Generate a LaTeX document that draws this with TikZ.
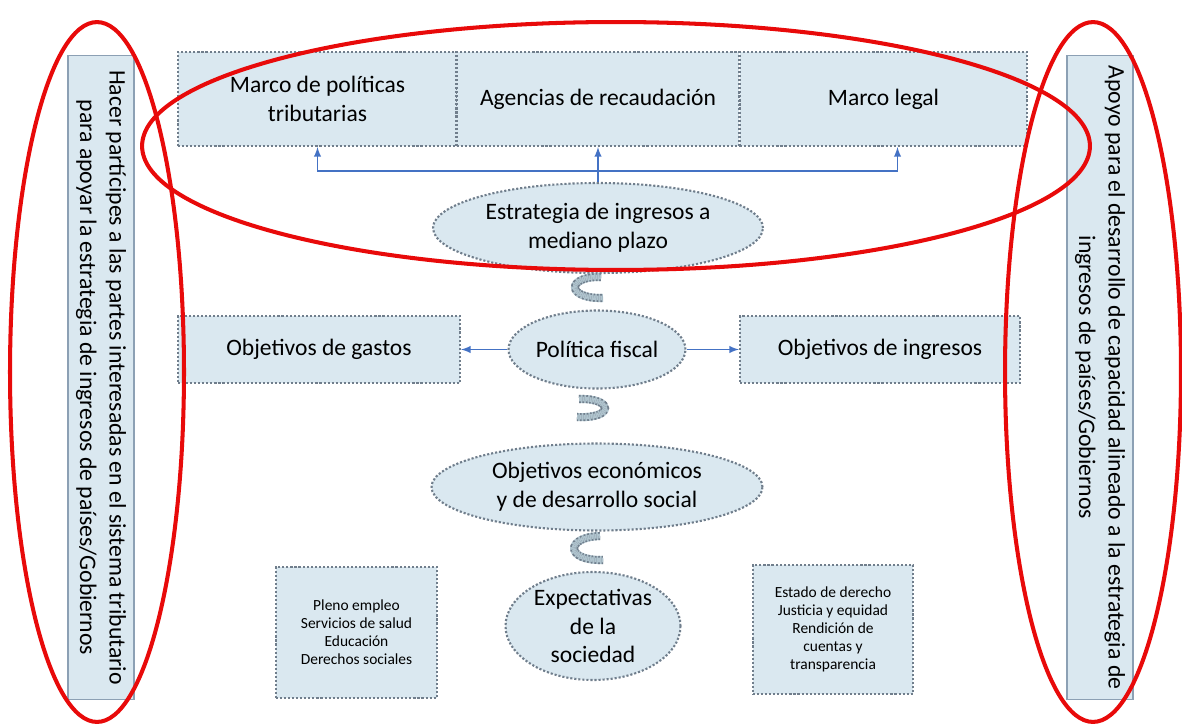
\documentclass[tikz,border=0pt]{standalone}
\usepackage{fontspec}
\setmainfont{Carlito}
\usepackage{tikz}
\usetikzlibrary{shapes.geometric}
\usetikzlibrary{calc}
\definecolor{boxfill}{RGB}{218,232,240}
\definecolor{boxline}{RGB}{112,126,140}
\definecolor{panelline}{RGB}{140,160,180}
\definecolor{arrowblue}{RGB}{68,114,196}
\definecolor{ringred}{RGB}{232,10,10}
\definecolor{curlfill}{RGB}{176,196,206}
\tikzset{
  dotbox/.style={draw=boxline,fill=boxfill,line width=1.2pt,dash pattern=on 1.2pt off 1.1pt,align=center,inner sep=2pt,font=\fontsize{13.4}{16.3}\selectfont},
  dotell/.style={dotbox,ellipse,inner sep=0pt},
  smallbox/.style={dotbox,font=\fontsize{8.8}{10.2}\selectfont},
  panel/.style={draw=panelline,fill=boxfill,line width=0.6pt,rotate=-90,align=center,minimum width=12.9cm,minimum height=1.32cm,font=\fontsize{13.5}{16.8}\selectfont},
  link/.style={draw=arrowblue,line width=0.9pt},
  curl/.style={preaction={draw=curlfill,solid,line width=4.6pt},draw=boxline,line width=1pt,dash pattern=on 1pt off 1pt,double=curlfill,double distance=2.6pt},
  ring/.style={draw=ringred,line width=2.3pt}
}
\begin{document}
\begin{tikzpicture}[x=0.02cm, y=-0.02cm]
\useasboundingbox (0,0) rectangle (1182,723);

% side panels
\node (lpanel) at (101,377.5) [panel] {Hacer partícipes a las partes interesadas en el sistema tributario\\para apoyar la estrategia de ingresos de países/Gobiernos};
\node (rpanel) at (1100,377.5) [panel] {Apoyo para el desarrollo de capacidad alineado a la estrategia de\\ingresos de países/Gobiernos};

% top row
\node (marco) at (317.5,99) [dotbox,minimum width=5.58cm,minimum height=1.88cm] {Marco de políticas\\tributarias};
\node (agencias) at (598,99) [dotbox,minimum width=5.66cm,minimum height=1.88cm] {Agencias de recaudación};
\node (legal) at (883.5,99) [dotbox,minimum width=5.74cm,minimum height=1.88cm] {Marco legal};

\node (estr) at (598,228) [dotell,minimum width=6.6cm,minimum height=1.8cm] {Estrategia de ingresos a\\mediano plazo};

% middle row
\node (fiscal) at (597,349.5) [dotell,minimum width=3.54cm,minimum height=1.56cm] {Política fiscal};
\node (gastos) at (319,349.5) [dotbox,minimum width=5.64cm,minimum height=1.34cm] {Objetivos de gastos};
\node (ingresos) at (880,349.5) [dotbox,minimum width=5.6cm,minimum height=1.34cm] {Objetivos de ingresos};

\node (econ) at (597,487) [dotell,minimum width=6.62cm,minimum height=1.74cm] {Objetivos económicos\\y de desarrollo social};
\node (soc) at (593,626) [dotell,minimum width=3.5cm,minimum height=2.16cm] {Expectativas\\de la\\sociedad};

\node (social) at (356.5,632.5) [smallbox,minimum width=3.22cm,minimum height=2.62cm] {Pleno empleo\\Servicios de salud\\Educación\\Derechos sociales};
\node (derecho) at (833,629.5) [smallbox,minimum width=3.2cm,minimum height=2.58cm] {Estado de derecho\\Justicia y equidad\\Rendición de\\cuentas y\\transparencia};

% connectors
\coordinate (split) at (598,171);
\draw [link,-latex] (estr.north) -- (agencias.south);
\draw [link,-latex] (split) -| (marco.south);
\draw [link,-latex] (split) -| ([xshift=0.28cm]legal.south);
\draw [link,-latex] (fiscal.west) -- (gastos.east);
\draw [link,-latex] (fiscal.east) -- (ingresos.west);

% curled arrows
\draw [curl] (601,277) .. controls (566,276) and (566,299) .. (603,298);
\draw [curl] (579,399) .. controls (614,398) and (614,419) .. (577,417);
\draw [curl] (600,536) .. controls (565,537) and (565,561) .. (603,560);

% red rings
\draw [ring] (97,372) ellipse [x radius=1.74cm, y radius=7cm];
\draw [ring] (1093,372) ellipse [x radius=1.76cm, y radius=7cm];
\draw [ring] (616,146) ellipse [x radius=9.48cm, y radius=2.48cm];
\end{tikzpicture}
\end{document}
